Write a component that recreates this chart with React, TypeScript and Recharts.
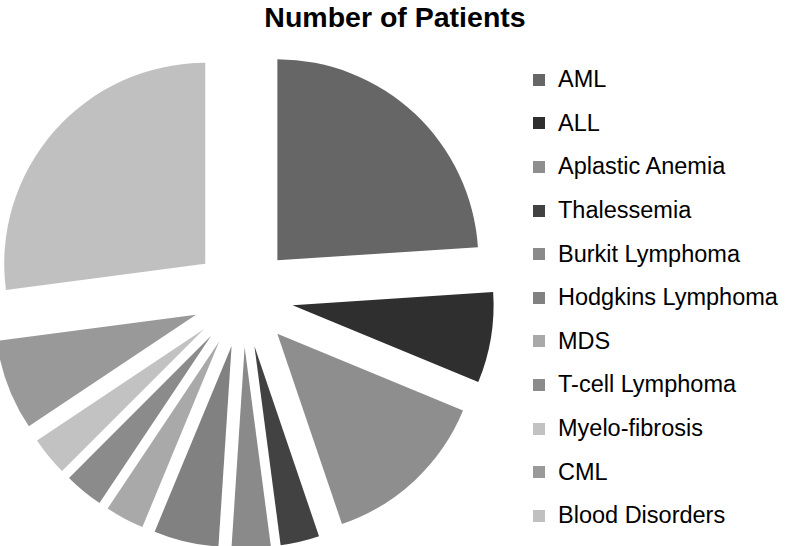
import { Cell, Legend, Pie, PieChart, Sector } from "recharts";

const categories = [
  "AML",
  "ALL",
  "Aplastic Anemia",
  "Thalessemia",
  "Burkit Lymphoma",
  "Hodgkins Lymphoma",
  "MDS",
  "T-cell Lymphoma",
  "Myelo-fibrosis",
  "CML",
  "Blood Disorders",
];

const patients = [23, 7, 13, 3, 3, 5, 3, 3, 3, 7, 26];

const palette = [
  "#666666",
  "#2f2f2f",
  "#8e8e8e",
  "#424242",
  "#8a8a8a",
  "#818181",
  "#a9a9a9",
  "#8b8b8b",
  "#c2c2c2",
  "#999999",
  "#c0c0c0",
];

const data = categories.map((name, i) => ({ name, value: patients[i] }));

const RADIAN = Math.PI / 180;
const OUTER = 201;
const EXPLODE = 0.25;

// pushes each slice out along its own mid angle, like an exploded pie
function ExplodedSector(props: any) {
  const { cx, cy, midAngle, outerRadius } = props;
  const d = outerRadius * EXPLODE;
  const x = cx + d * Math.cos(-midAngle * RADIAN);
  const y = cy + d * Math.sin(-midAngle * RADIAN);
  return <Sector {...props} cx={x} cy={y} stroke="none" />;
}

function LegendList({ payload }: any) {
  // keep the data order, not the alphabetical one
  const items = [...(payload ?? [])].sort(
    (a: any, b: any) => categories.indexOf(a.value) - categories.indexOf(b.value)
  );
  return (
    <ul style={{ listStyle: "none", margin: 0, padding: 0 }}>
      {items.map((entry: any, i: number) => (
        <li
          key={i}
          style={{
            display: "flex",
            alignItems: "center",
            height: 43.6,
            fontSize: 23.5,
            color: "#000",
          }}
        >
          <span
            style={{
              display: "inline-block",
              width: 12,
              height: 12,
              background: entry.color,
              marginRight: 13,
            }}
          />
          {entry.value}
        </li>
      ))}
    </ul>
  );
}

export default function App() {
  return (
    <div
      style={{
        position: "absolute",
        left: 0,
        top: 0,
        width: 786,
        height: 546,
        background: "#fff",
        fontFamily: "'Liberation Sans', Arial, Helvetica, sans-serif",
      }}
    >
      <div
        style={{
          position: "absolute",
          left: 0,
          width: 790,
          top: 1,
          textAlign: "center",
          fontSize: 28.5,
          fontWeight: "bold",
          color: "#000",
        }}
      >
        Number of Patients
      </div>
      <PieChart width={786} height={546} style={{ position: "absolute", left: 0, top: 0 }}>
        <Pie
          data={data}
          dataKey="value"
          nameKey="name"
          cx={238}
          cy={292}
          outerRadius={OUTER}
          startAngle={90}
          endAngle={-270}
          stroke="none"
          shape={ExplodedSector}
          activeShape={ExplodedSector}
          isAnimationActive={false}
        >
          {data.map((_, i) => (
            <Cell key={i} fill={palette[i]} />
          ))}
        </Pie>
        <Legend
          layout="vertical"
          align="right"
          verticalAlign="top"
          content={LegendList}
          wrapperStyle={{ left: 533, top: 58, width: 253 }}
        />
      </PieChart>
    </div>
  );
}
